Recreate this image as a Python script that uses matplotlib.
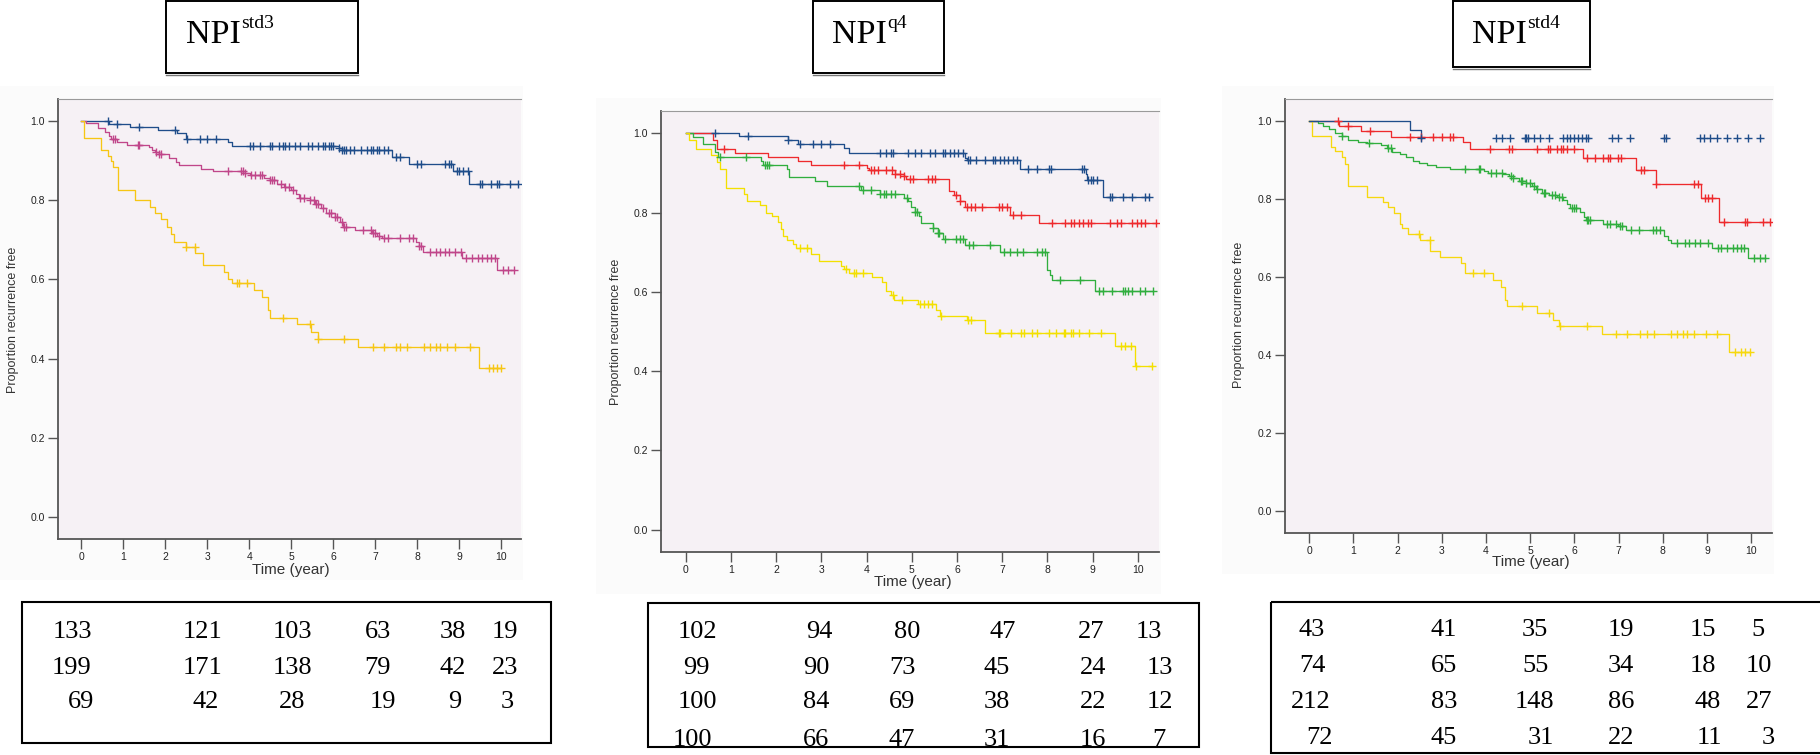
import numpy as np
import matplotlib.pyplot as plt
from matplotlib.patches import Rectangle

plt.rcParams['font.family'] = ['Liberation Sans', 'DejaVu Sans']

W, H = 1820, 755

# ---- Kaplan-Meier data: event times (year) and survival after each step ----
# NPI std3
std3_blue_t = [0.67, 1.17, 1.83, 2.29, 2.5, 3.5, 3.6, 6.14, 6.2, 7.41, 7.8, 8.84, 9.24]
std3_blue_s = [0.994, 0.985, 0.978, 0.97, 0.955, 0.947, 0.938, 0.931, 0.926, 0.909, 0.891, 0.875, 0.841]
std3_blue_c = [0.64, 0.85, 1.37, 2.23, 2.52, 2.82, 3.0, 3.2, 4.03, 4.1, 4.25, 4.5, 4.55, 4.7, 4.8, 4.85,
               4.95, 5.1, 5.2, 5.4, 5.5, 5.65, 5.75, 5.8, 5.9, 5.95, 6.0, 6.15, 6.2, 6.25, 6.3, 6.4, 6.5,
               6.65, 6.8, 6.9, 6.95, 7.05, 7.1, 7.2, 7.3, 7.5, 7.6, 8.0, 8.1, 8.65, 8.75, 8.8, 8.95, 9.0,
               9.1, 9.2, 9.5, 9.55, 9.75, 9.9, 9.95, 10.2, 10.4]

std3_pink_t = [0.12, 0.4, 0.56, 0.66, 0.72, 0.85, 1.09, 1.61, 1.69, 1.77, 1.85, 2.09, 2.25, 2.33, 2.86,
               3.14, 3.86, 4.03, 4.35, 4.5, 4.67, 4.83, 4.99, 5.11, 5.19, 5.44, 5.56, 5.72, 5.84, 6.04,
               6.16, 6.24, 6.52, 6.92, 7.04, 7.17, 7.97, 8.05, 8.13, 9.06, 9.9]
std3_pink_s = [0.996, 0.983, 0.973, 0.962, 0.954, 0.947, 0.941, 0.935, 0.928, 0.923, 0.916, 0.906, 0.897,
               0.889, 0.88, 0.875, 0.87, 0.864, 0.857, 0.851, 0.842, 0.833, 0.825, 0.815, 0.806, 0.8,
               0.791, 0.781, 0.767, 0.758, 0.746, 0.732, 0.726, 0.718, 0.71, 0.704, 0.694, 0.684, 0.67,
               0.653, 0.625]
std3_pink_c = [0.75, 0.8, 1.35, 1.38, 1.78, 1.85, 1.9, 3.5, 3.8, 3.85, 3.9, 4.05, 4.15, 4.25, 4.3, 4.5,
               4.55, 4.6, 4.75, 4.85, 4.95, 5.05, 5.2, 5.3, 5.45, 5.55, 5.6, 5.65, 5.75, 5.9, 5.95, 6.05,
               6.1, 6.2, 6.25, 6.3, 6.7, 6.9, 6.95, 7.0, 7.1, 7.2, 7.3, 7.6, 7.8, 7.9, 8.05, 8.1, 8.3,
               8.45, 8.55, 8.65, 8.75, 8.9, 9.05, 9.15, 9.3, 9.45, 9.55, 9.65, 9.75, 9.85, 10.05, 10.15,
               10.3]

std3_yel_t = [0.08, 0.48, 0.63, 0.72, 0.76, 0.87, 1.29, 1.63, 1.77, 1.89, 2.04, 2.13, 2.2, 2.5, 2.72,
              2.91, 3.41, 3.5, 3.6, 4.12, 4.31, 4.44, 4.49, 5.15, 5.48, 5.64, 6.6, 9.48]
std3_yel_s = [0.958, 0.928, 0.913, 0.9, 0.884, 0.827, 0.8, 0.784, 0.769, 0.753, 0.732, 0.714, 0.695,
              0.682, 0.666, 0.636, 0.619, 0.602, 0.592, 0.574, 0.556, 0.522, 0.503, 0.487, 0.468, 0.449,
              0.428, 0.375]
std3_yel_c = [2.5, 2.7, 3.7, 3.75, 3.95, 4.8, 5.45, 5.65, 6.25, 6.95, 7.2, 7.5, 7.6, 7.75, 8.15, 8.3,
              8.45, 8.55, 8.7, 8.9, 9.25, 9.7, 9.8, 9.9, 10.0]

# NPI q4
q4_blue_t = [1.17, 2.26, 2.49, 3.49, 3.62, 6.17, 6.22, 7.4, 8.85, 8.87, 9.24]
q4_blue_s = [0.992, 0.982, 0.973, 0.962, 0.95, 0.938, 0.933, 0.91, 0.896, 0.881, 0.839]
q4_blue_c = [0.64, 1.38, 2.26, 2.53, 2.82, 3.0, 3.19, 4.3, 4.42, 4.54, 4.58, 4.91, 5.07, 5.2, 5.4, 5.52,
             5.69, 5.73, 5.85, 5.94, 6.02, 6.14, 6.24, 6.29, 6.43, 6.63, 6.8, 6.84, 6.96, 7.04, 7.13,
             7.25, 7.33, 7.58, 7.78, 8.03, 8.07, 8.77, 8.81, 8.89, 8.97, 9.01, 9.1, 9.38, 9.43, 9.67,
             9.87, 10.16, 10.25]

q4_red_t = [0.6, 0.68, 1.09, 1.81, 2.49, 2.76, 4.0, 4.06, 4.62, 4.82, 4.87, 5.83, 5.94, 6.06, 6.17,
            7.17, 7.81]
q4_red_s = [0.982, 0.961, 0.95, 0.939, 0.931, 0.92, 0.913, 0.906, 0.897, 0.892, 0.885, 0.855, 0.843,
            0.83, 0.813, 0.794, 0.773]
q4_red_c = [0.85, 3.49, 3.84, 4.09, 4.17, 4.25, 4.42, 4.56, 4.62, 4.74, 4.82, 4.97, 5.03, 5.36, 5.44,
            5.52, 5.98, 6.06, 6.22, 6.3, 6.39, 6.55, 6.92, 7.0, 7.11, 7.25, 7.41, 8.1, 8.4, 8.52, 8.6,
            8.69, 8.78, 8.89, 8.97, 9.38, 9.54, 9.63, 9.87, 9.98, 10.08, 10.16, 10.41]

q4_green_t = [0.15, 0.39, 0.64, 0.72, 1.67, 1.71, 2.24, 2.28, 2.86, 3.13, 3.88, 4.29, 4.83, 4.91, 4.99,
              5.07, 5.16, 5.2, 5.48, 5.57, 5.69, 6.18, 6.96, 7.99, 8.05, 8.11, 9.06]
q4_green_s = [0.99, 0.973, 0.952, 0.94, 0.929, 0.921, 0.91, 0.889, 0.879, 0.866, 0.857, 0.847, 0.837,
              0.829, 0.813, 0.801, 0.79, 0.773, 0.761, 0.749, 0.734, 0.719, 0.7, 0.654, 0.643, 0.63,
              0.602]
q4_green_c = [0.76, 1.34, 1.75, 1.79, 1.85, 3.84, 3.92, 4.09, 4.29, 4.38, 4.42, 4.54, 4.62, 4.89, 5.07,
              5.12, 5.48, 5.57, 5.61, 5.73, 5.98, 6.06, 6.14, 6.26, 6.35, 6.72, 7.04, 7.17, 7.33, 7.45,
              7.78, 7.87, 7.95, 8.28, 8.73, 9.14, 9.22, 9.43, 9.67, 9.71, 9.79, 9.87, 10.04, 10.16,
              10.33]

q4_yel_t = [0.07, 0.23, 0.56, 0.68, 0.76, 0.89, 1.28, 1.36, 1.65, 1.77, 1.91, 2.05, 2.1, 2.16, 2.23,
            2.36, 2.43, 2.76, 2.94, 3.43, 3.51, 3.6, 4.13, 4.33, 4.42, 4.54, 4.6, 5.14, 5.53, 5.63,
            6.22, 6.62, 9.49, 9.93]
q4_yel_s = [0.983, 0.961, 0.944, 0.927, 0.91, 0.861, 0.847, 0.83, 0.818, 0.799, 0.79, 0.776, 0.759,
            0.74, 0.731, 0.721, 0.711, 0.696, 0.679, 0.666, 0.658, 0.648, 0.637, 0.624, 0.601, 0.591,
            0.58, 0.57, 0.555, 0.54, 0.528, 0.497, 0.463, 0.412]
q4_yel_c = [2.53, 2.69, 3.55, 3.72, 3.76, 3.92, 4.58, 4.79, 5.18, 5.28, 5.36, 5.44, 5.65, 6.25, 6.31,
            6.92, 6.96, 7.2, 7.41, 7.49, 7.66, 7.78, 8.03, 8.2, 8.36, 8.4, 8.52, 8.56, 8.69, 8.93, 9.18,
            9.63, 9.71, 9.84, 9.96, 10.31]

# NPI std4
std4_blue_t = [2.27, 2.53]
std4_blue_s = [0.977, 0.956]
std4_blue_c = [4.22, 4.35, 4.55, 4.87, 4.91, 4.95, 5.08, 5.21, 5.43, 5.73, 5.82, 5.9, 5.99, 6.08, 6.16,
               6.25, 6.31, 6.86, 6.99, 7.26, 8.03, 8.07, 8.85, 8.94, 9.06, 9.22, 9.45, 9.67, 9.93,
               10.19]

std4_red_t = [0.67, 1.17, 1.84, 3.48, 3.63, 6.19, 7.4, 7.84, 8.87, 9.26]
std4_red_s = [0.987, 0.973, 0.958, 0.947, 0.927, 0.906, 0.874, 0.838, 0.802, 0.742]
std4_red_c = [0.65, 0.87, 1.38, 2.27, 2.53, 2.81, 3.0, 3.18, 3.25, 4.09, 4.52, 4.58, 5.15, 5.39, 5.45,
              5.6, 5.69, 5.73, 5.82, 5.99, 6.29, 6.47, 6.64, 6.77, 6.81, 6.99, 7.06, 7.51, 7.58, 7.84,
              8.7, 8.79, 8.96, 9.02, 9.11, 9.39, 9.86, 9.91, 10.26, 10.43]

std4_green_t = [0.19, 0.32, 0.45, 0.58, 0.74, 0.88, 1.1, 1.3, 1.62, 1.75, 1.88, 2.05, 2.18, 2.35, 2.48,
                2.66, 2.87, 3.18, 3.96, 4.04, 4.39, 4.52, 4.61, 4.74, 4.91, 5.04, 5.13, 5.26, 5.43,
                5.6, 5.73, 5.82, 5.9, 6.12, 6.21, 6.25, 6.64, 6.99, 7.16, 8.03, 8.11, 8.18, 9.11, 9.93]
std4_green_s = [0.994, 0.987, 0.979, 0.97, 0.96, 0.95, 0.946, 0.942, 0.937, 0.93, 0.921, 0.915, 0.907,
                0.898, 0.891, 0.886, 0.881, 0.877, 0.872, 0.867, 0.863, 0.858, 0.853, 0.847, 0.84,
                0.833, 0.825, 0.814, 0.809, 0.804, 0.796, 0.786, 0.776, 0.767, 0.754, 0.746, 0.737,
                0.731, 0.72, 0.706, 0.696, 0.686, 0.673, 0.649]
std4_green_c = [0.74, 1.36, 1.79, 1.84, 3.52, 3.83, 3.87, 4.11, 4.22, 4.35, 4.56, 4.61, 4.78, 4.82,
                4.91, 5.0, 5.08, 5.15, 5.3, 5.34, 5.5, 5.56, 5.65, 5.71, 5.95, 5.99, 6.03, 6.28, 6.31,
                6.36, 6.73, 6.8, 6.94, 7.03, 7.07, 7.29, 7.46, 7.77, 7.85, 7.94, 8.33, 8.5, 8.59, 8.72,
                8.85, 9.02, 9.24, 9.32, 9.45, 9.58, 9.67, 9.76, 9.84, 10.06, 10.19, 10.32]

std4_yel_t = [0.06, 0.49, 0.58, 0.74, 0.8, 0.88, 1.3, 1.66, 1.79, 1.92, 2.05, 2.1, 2.23, 2.51, 2.74,
              2.96, 3.44, 3.52, 4.15, 4.33, 4.43, 4.48, 5.15, 5.52, 5.65, 6.62, 9.5]
std4_yel_s = [0.96, 0.934, 0.923, 0.908, 0.89, 0.833, 0.806, 0.791, 0.78, 0.763, 0.737, 0.725, 0.709,
              0.695, 0.666, 0.652, 0.636, 0.611, 0.592, 0.575, 0.542, 0.525, 0.508, 0.491, 0.474,
              0.453, 0.408]
std4_yel_c = [2.48, 2.72, 3.7, 3.96, 4.81, 5.43, 5.67, 6.28, 6.94, 7.2, 7.49, 7.64, 7.81, 8.18, 8.33,
              8.46, 8.55, 8.7, 8.98, 9.22, 9.63, 9.76, 9.87, 9.97]

# numbers at risk under each plot
risk_std3 = [[133, 121, 103, 63, 38, 19],
             [199, 171, 138, 79, 42, 23],
             [69, 42, 28, 19, 9, 3]]
risk_q4 = [[102, 94, 80, 47, 27, 13],
           [99, 90, 73, 45, 24, 13],
           [100, 84, 69, 38, 22, 12],
           [100, 66, 47, 31, 16, 7]]
risk_std4 = [[43, 41, 35, 19, 15, 5],
             [74, 65, 55, 34, 18, 10],
             [212, 83, 148, 86, 48, 27],
             [72, 45, 31, 22, 11, 3]]

titles = [('NPI', 'std3'), ('NPI', 'q4'), ('NPI', 'std4')]

# colours
blue = '#1F4D8A'
pink = '#C0468A'
red = '#EE2A2D'
green = '#30AE3E'
gold = '#F6C614'
lemon = '#F3E000'
yel3 = '#F6D80E'
bg = '#F6F1F5'

# ---- layout in pixels ----
panel_px = [(58, 99, 521, 539), (661, 111, 1159, 552), (1285, 99, 1772, 533)]
ylab_px = [(13.5, 320), (616, 332), (1239, 315)]
xlab_px = [(291, 570), (913, 582), (1531, 562)]
chart_bg_px = [(0, 86, 523, 580), (596, 98, 1161, 594), (1222, 86, 1774, 574)]
title_box_px = [(166, 1, 358, 73), (813, 1, 944, 73), (1453, 1, 1590, 67)]
title_txt_px = [(186, 42.7), (832, 42.7), (1472, 42.7)]
table_box_px = [(22, 602, 551, 743), (648, 603, 1199, 747), (1271, 602, 1835, 753)]
table_rows_px = [[630, 665, 700], [630, 665, 700, 737], [628, 664, 700, 736]]
table_cols_px = [
    [[72, 203, 292, 378, 453, 505], [72, 203, 292, 378, 453, 505], [81, 206, 292, 383, 455, 507]],
    [[697, 819, 907, 1003, 1091, 1149], [696, 816, 902, 997, 1093, 1160],
     [697, 816, 902, 997, 1093, 1160], [692, 816, 902, 997, 1093, 1159]],
    [[1312, 1444, 1535, 1621, 1703, 1758], [1312, 1444, 1535, 1621, 1703, 1759],
     [1311, 1444, 1534, 1621, 1708, 1759], [1320, 1444, 1541, 1621, 1709, 1768]],
]

fig = plt.figure(figsize=(W / 100, H / 100), dpi=100)

# overlay in pixel coordinates for boxes and free text
ov = fig.add_axes([0, 0, 1, 1])
ov.set_xlim(0, W)
ov.set_ylim(H, 0)
ov.axis('off')


def px_axes(l, t, r, b):
    return fig.add_axes([l / W, 1 - b / H, (r - l) / W, (b - t) / H])


def km_curve(ax, times, surv, cens, color, line_end=None, line=True):
    times = np.asarray(times)
    surv = np.asarray(surv)
    cens = np.asarray(cens)
    levels = np.r_[1.0, surv]
    end = cens.max() if line_end is None else line_end
    if line:
        x = np.r_[0, times, end]
        y = np.r_[1.0, surv, surv[-1]]
        ax.step(x, y, where='post', color=color, lw=0.95, zorder=3)
    cy = levels[np.searchsorted(times, cens, side='right')]
    ax.plot(cens, cy, linestyle='none', marker='+', ms=5.5, mew=1.0, color=color, zorder=4)


panels = [
    [(std3_blue_t, std3_blue_s, std3_blue_c, blue),
     (std3_pink_t, std3_pink_s, std3_pink_c, pink),
     (std3_yel_t, std3_yel_s, std3_yel_c, gold)],
    [(q4_blue_t, q4_blue_s, q4_blue_c, blue),
     (q4_red_t, q4_red_s, q4_red_c, red),
     (q4_green_t, q4_green_s, q4_green_c, green),
     (q4_yel_t, q4_yel_s, q4_yel_c, lemon)],
    [(std4_red_t, std4_red_s, std4_red_c, red),
     (std4_green_t, std4_green_s, std4_green_c, green),
     (std4_yel_t, std4_yel_s, std4_yel_c, yel3)],
]

for i, (l, t, r, b) in enumerate(panel_px):
    # faint chart area behind each plot
    cl, ct, cr, cb = chart_bg_px[i]
    ov.add_patch(Rectangle((cl, ct), cr - cl, cb - ct, facecolor='#FBFBFB', edgecolor='none', zorder=0))

    ax = px_axes(l, t, r, b)
    ax.set_facecolor(bg)
    ax.set_xlim(-0.55, 10.47)
    ax.set_ylim(-0.056, 1.056)
    ax.set_xticks(range(11))
    ax.set_yticks([0.0, 0.2, 0.4, 0.6, 0.8, 1.0])
    ax.set_yticklabels(['0.0', '0.2', '0.4', '0.6', '0.8', '1.0'])
    ax.tick_params(direction='out', length=7, width=1.0, color='#555555', labelsize=7.5,
                   labelcolor='#222222', pad=2.5)
    ax.spines['right'].set_visible(False)
    ax.spines['top'].set_color('#9A9A9A')
    ax.spines['top'].set_linewidth(0.8)
    for side in ['left', 'bottom']:
        ax.spines[side].set_color('#555555')
        ax.spines[side].set_linewidth(1.3)

    for times, surv, cens, col in panels[i]:
        km_curve(ax, times, surv, cens, col)
    if i == 2:
        # blue group: drawn line only to its last event, later censored cases as marks
        km_curve(ax, std4_blue_t, std4_blue_s, [2.53], blue, line_end=2.55)
        km_curve(ax, std4_blue_t, std4_blue_s, std4_blue_c, blue, line=False)

    x, y = ylab_px[i]
    ov.text(x, y, 'Proportion recurrence free', rotation=90, ha='center', va='center',
            fontsize=9, color='#333333')
    x, y = xlab_px[i]
    ov.text(x, y, 'Time (year)', ha='center', va='center', fontsize=11, color='#333333')

# title boxes
for i, (main, sup) in enumerate(titles):
    l, t, r, b = title_box_px[i]
    ov.add_patch(Rectangle((l, t), r - l, b - t, facecolor='white', edgecolor='black', lw=1.4, zorder=2))
    ov.plot([l, r], [b + 1.5, b + 1.5], color='#777777', lw=1.0, zorder=2)
    x, y = title_txt_px[i]
    txt = ov.text(x, y, main, fontsize=24.5, family='Liberation Serif', ha='left', va='baseline', zorder=3)
    fig.canvas.draw()
    bb = txt.get_window_extent()
    x_sup = bb.x1 + 0.5
    ov.text(x_sup, y - 14.5, sup, fontsize=14, family='Liberation Serif', ha='left', va='baseline',
            zorder=3)

# number at risk tables
risks = [risk_std3, risk_q4, risk_std4]
for i, table in enumerate(risks):
    l, t, r, b = table_box_px[i]
    box = Rectangle((l, t), r - l, b - t, facecolor='none', edgecolor='black', lw=1.5, zorder=2)
    ov.add_patch(box)
    clip = Rectangle((l, t), r - l, b - t - 2.5, transform=ov.transData)
    for j, row in enumerate(table):
        yb = table_rows_px[i][j] + 8.5
        for k, val in enumerate(row):
            tx = ov.text(table_cols_px[i][j][k], yb, str(val), fontsize=19, family='Liberation Serif',
                         ha='center', va='baseline', zorder=3)
            tx.set_clip_path(clip)

fig.savefig('out.png', dpi=100)
